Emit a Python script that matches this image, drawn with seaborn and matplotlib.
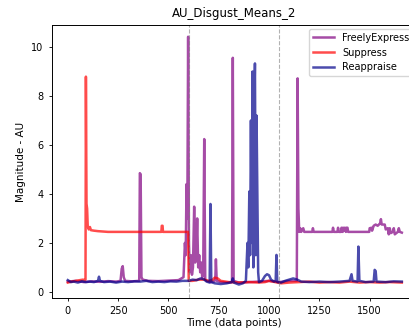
import matplotlib
matplotlib.use('Agg')
import matplotlib.pyplot as plt
import seaborn as sns

# FreelyExpress (purple)
freely_t = [0, 40, 80, 120, 160, 200, 240, 262, 268, 273, 278, 285, 320, 355, 358, 362, 366, 372,
            400, 450, 500, 550, 575, 582, 586, 590, 594, 598, 602, 606, 612, 617, 622, 628, 633,
            638, 643, 648, 653, 658, 663, 668, 673, 678, 683, 690, 710, 725, 733, 736, 740, 760,
            800, 816, 820, 824, 850, 900, 950, 1000, 1050, 1100, 1138, 1142, 1146, 1150, 1155,
            1160, 1170, 1175, 1215, 1218, 1222, 1315, 1318, 1322, 1340, 1343, 1347, 1358, 1360,
            1366, 1368, 1374, 1376, 1382, 1384, 1390, 1393, 1498, 1500, 1510, 1512, 1520, 1530,
            1540, 1552, 1556, 1560, 1575, 1580, 1590, 1595, 1600, 1605, 1615, 1620, 1625, 1640,
            1645, 1650, 1660]
freely_v = [0.42, 0.45, 0.40, 0.43, 0.41, 0.44, 0.42, 0.45, 0.95, 1.05, 0.60, 0.45, 0.43, 0.45, 4.85,
            4.80, 0.60, 0.50, 0.45, 0.44, 0.46, 0.48, 0.60, 2.00, 1.50, 4.40, 3.00, 10.42, 2.00,
            0.80, 1.50, 0.70, 1.00, 3.48, 1.20, 1.50, 3.00, 1.00, 1.50, 0.80, 1.20, 0.60, 0.90,
            6.24, 0.50, 0.45, 0.40, 0.42, 0.50, 1.33, 0.45, 0.40, 0.38, 0.40, 9.56, 0.45, 0.38,
            0.40, 0.42, 0.45, 0.40, 0.45, 0.45, 8.72, 3.40, 2.45, 2.60, 2.45, 2.60, 2.45, 2.45,
            2.60, 2.45, 2.45, 2.62, 2.45, 2.45, 2.62, 2.45, 2.45, 2.62, 2.45, 2.62, 2.50, 2.62,
            2.45, 2.62, 2.62, 2.45, 2.45, 2.60, 2.62, 2.50, 2.70, 2.75, 2.70, 2.80, 2.97, 2.75,
            2.75, 2.55, 2.60, 2.35, 2.60, 2.40, 2.45, 2.60, 2.35, 2.45, 2.60, 2.45, 2.42]

# Suppress (red)
suppress_t = [0, 20, 40, 60, 75, 85, 88, 90, 93, 96, 99, 104, 110, 115, 130, 150, 200, 250, 300,
              400, 465, 467, 471, 473, 550, 598, 601, 620, 650, 680, 700, 720, 730, 745, 760, 800,
              850, 900, 950, 980, 1000, 1030, 1060, 1100, 1150, 1200, 1250, 1300, 1350, 1400,
              1450, 1500, 1550, 1600, 1660]
suppress_v = [0.38, 0.42, 0.45, 0.48, 0.50, 0.48, 0.50, 8.79, 3.60, 3.40, 2.70, 2.55, 2.65, 2.52,
              2.50, 2.48, 2.45, 2.45, 2.45, 2.45, 2.45, 2.70, 2.70, 2.45, 2.45, 2.45, 0.45, 0.45,
              0.50, 0.50, 0.45, 0.50, 0.58, 0.55, 0.45, 0.40, 0.38, 0.40, 0.38, 0.40, 0.45, 0.40,
              0.35, 0.38, 0.40, 0.42, 0.38, 0.40, 0.38, 0.42, 0.38, 0.40, 0.38, 0.40, 0.38]

# Reappraise (blue)
reappraise_t = [0, 15, 30, 50, 70, 90, 110, 130, 150, 155, 160, 180, 210, 240, 270, 300, 330, 360,
                390, 420, 450, 480, 510, 540, 570, 600, 620, 640, 660, 675, 690, 705, 709, 713,
                730, 760, 790, 815, 820, 825, 850, 870, 885, 893, 897, 902, 906, 910, 914, 918,
                922, 926, 930, 934, 938, 942, 946, 950, 965, 980, 990, 1000, 1010, 1025, 1033,
                1037, 1041, 1060, 1080, 1100, 1120, 1140, 1160, 1200, 1250, 1300, 1350, 1400,
                1410, 1415, 1440, 1444, 1449, 1480, 1520, 1525, 1530, 1534, 1580, 1620, 1660]
reappraise_v = [0.48, 0.40, 0.42, 0.38, 0.43, 0.40, 0.42, 0.40, 0.45, 0.62, 0.45, 0.40, 0.42, 0.38,
                0.42, 0.40, 0.43, 0.42, 0.45, 0.40, 0.42, 0.40, 0.43, 0.42, 0.45, 0.45, 0.50,
                0.48, 0.55, 0.52, 0.42, 0.38, 3.59, 0.40, 0.35, 0.32, 0.35, 0.40, 0.55, 0.38,
                0.30, 0.35, 0.45, 2.00, 1.00, 4.10, 1.50, 7.00, 2.00, 9.00, 1.00, 7.00, 9.33,
                1.50, 7.20, 4.00, 0.80, 0.40, 0.45, 0.65, 0.72, 0.68, 0.50, 0.42, 0.45, 1.51,
                0.40, 0.38, 0.45, 0.50, 0.55, 0.50, 0.42, 0.40, 0.42, 0.40, 0.42, 0.45, 0.72,
                0.45, 0.42, 1.85, 0.45, 0.40, 0.42, 0.90, 0.85, 0.42, 0.40, 0.43, 0.42]

phase_bounds = [600, 1050]

fig = plt.figure(figsize=(4.09, 3.31), dpi=100)
ax = fig.add_axes([0.1264, 0.0997, 0.893, 0.8248])

sns.lineplot(x=freely_t, y=freely_v, color='purple', alpha=0.7, lw=1.8,
             estimator=None, sort=False, label='FreelyExpress', ax=ax)
sns.lineplot(x=suppress_t, y=suppress_v, color='red', alpha=0.7, lw=1.8,
             estimator=None, sort=False, label='Suppress', ax=ax)
sns.lineplot(x=reappraise_t, y=reappraise_v, color='darkblue', alpha=0.7, lw=1.8,
             estimator=None, sort=False, label='Reappraise', ax=ax)

for b in phase_bounds:
    ax.axvline(b, color='grey', linestyle='--', lw=0.8, alpha=0.6)

ax.set_xlim(-80, 1735)
ax.set_ylim(-0.25, 10.9)
ax.set_xticks([0, 250, 500, 750, 1000, 1250, 1500])
ax.set_yticks([0, 2, 4, 6, 8, 10])
ax.tick_params(labelsize=7, length=2.5, width=0.6)
for s in ax.spines.values():
    s.set_linewidth(0.7)
ax.set_title('AU_Disgust_Means_2', fontsize=8.5)
ax.set_xlabel('Time (data points)', fontsize=7.5, labelpad=1)
ax.set_ylabel('Magnitude - AU', fontsize=7.5)
ax.legend(loc='upper right', fontsize=7, handlelength=2.2, borderaxespad=0.4)

plt.savefig('out.png', dpi=100)
